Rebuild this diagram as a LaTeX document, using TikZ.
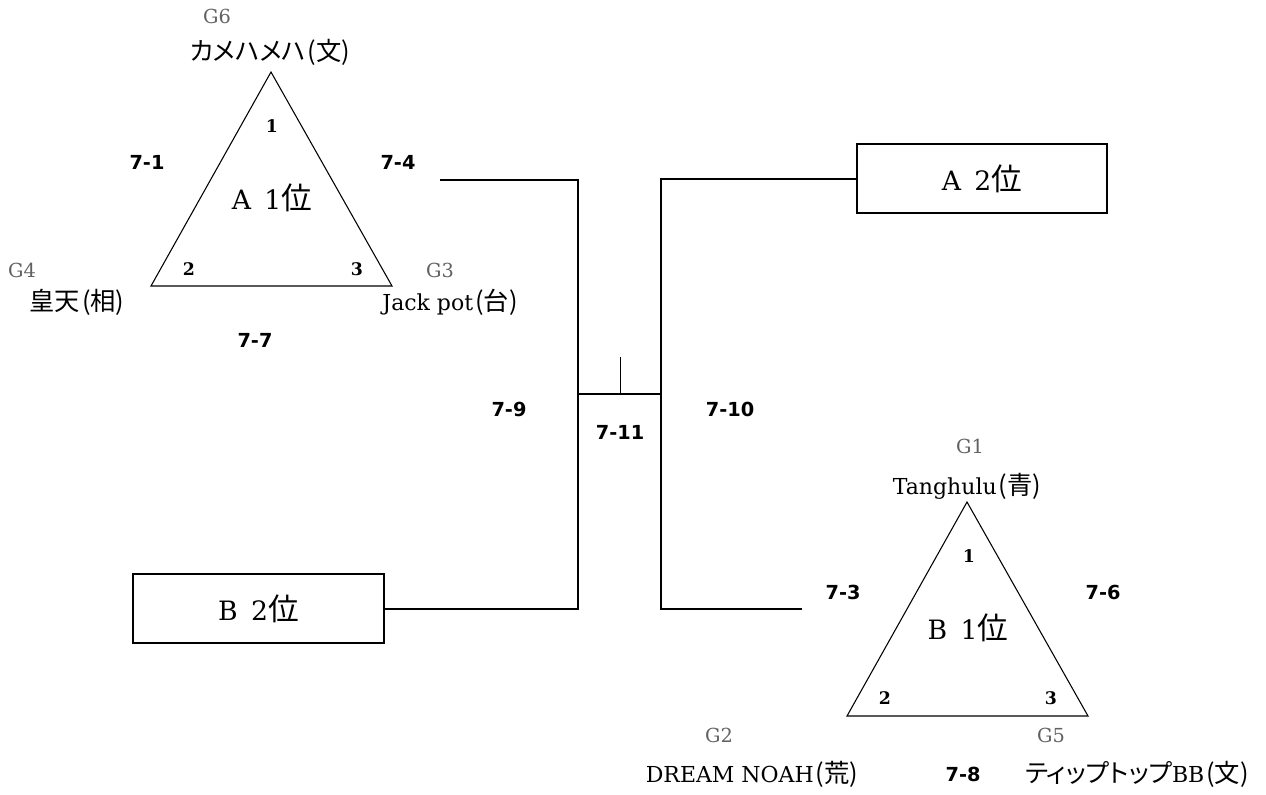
\documentclass[tikz,border=0pt]{standalone}
\usepackage{fontspec}
\setmainfont{DejaVu Serif}
\newfontfamily\jpfont[CharacterWidth=AlternateProportional, Scale=1.15]{Noto Sans CJK JP}
\newfontfamily\tagfont{DejaVu Sans}
\newcommand{\club}[1]{\kern1.5pt{\jpfont(#1)}}
\usetikzlibrary{positioning}

\begin{document}
\begin{tikzpicture}[x=0.75pt, y=-0.75pt,
        rank/.style={rectangle, draw, line width=1.5pt, minimum width=188pt, minimum height=52pt, font=\fontsize{20}{24}\selectfont},
        team/.style={font=\fontsize{16.5}{20}\selectfont, inner sep=0pt},
        grp/.style={font=\fontsize{14.5}{17}\selectfont, text=black!62, inner sep=0pt},
        game/.style={font=\tagfont\bfseries\fontsize{14.5}{17}\selectfont, inner sep=0pt},
        seat/.style={font=\bfseries\fontsize{13}{15}\selectfont, inner sep=0pt},
        pool/.style={font=\fontsize{20}{24}\selectfont, inner sep=0pt},
        tri/.style={line width=0.8pt},
        wire/.style={line width=1.5pt}
    ]
        \useasboundingbox (0,0) rectangle (1266,794);
        % group A
        \coordinate (ta1) at (271,72);
        \coordinate (ta2) at (151,286);
        \coordinate (ta3) at (392,286);
        \draw[tri] (ta1) -- (ta2) -- (ta3) -- cycle;
        \node[pool] (poola) at (272,198) {A\enspace 1{\jpfont 位}};
        \node[seat] (sa1) at (272,126) {1};
        \node[seat] (sa2) at (189,269) {2};
        \node[seat] (sa3) at (357,269) {3};
        \node[grp] (g6) at (217,16) {G6};
        \node[team] (kame) at (270,52) {{\jpfont カメハメハ}\club{文}};
        \node[grp] (g4) at (22,270) {G4};
        \node[team] (koten) at (77,302) {{\jpfont 皇天}\club{相}};
        \node[grp] (g3) at (440,270) {G3};
        \node[team] (jack) at (450,302) {Jack pot\club{台}};
        \node[game] (m1) at (147,162) {7-1};
        \node[game] (m4) at (398,162) {7-4};
        \node[game] (m7) at (255,340) {7-7};

        % group B
        \coordinate (tb1) at (967,502);
        \coordinate (tb2) at (847,716);
        \coordinate (tb3) at (1088,716);
        \draw[tri] (tb1) -- (tb2) -- (tb3) -- cycle;
        \node[pool] (poolb) at (968,628) {B\enspace 1{\jpfont 位}};
        \node[seat] (sb1) at (969,556) {1};
        \node[seat] (sb2) at (885,698) {2};
        \node[seat] (sb3) at (1051,698) {3};
        \node[grp] (g1) at (970,446) {G1};
        \node[team] (tang) at (967,486) {Tanghulu\club{青}};
        \node[grp] (g2) at (719,735) {G2};
        \node[team] (noah) at (752,774) {DREAM NOAH\club{荒}};
        \node[grp] (g5) at (1051,735) {G5};
        \node[team] (tip) at (1137,774) {{\jpfont ティップトップ}BB\club{文}};
        \node[game] (m3) at (843,592) {7-3};
        \node[game] (m6) at (1103,592) {7-6};
        \node[game] (m8) at (963,774) {7-8};

        % knockout
        \node[rank] (a2) at (982,178.5) {A\enspace 2{\jpfont 位}};
        \node[rank] (b2) at (258.5,608.5) {B\enspace 2{\jpfont 位}};
        \coordinate (a1out) at (440,180);
        \coordinate (b1out) at (802,608.5);
        \coordinate (semi1) at (578,394);
        \coordinate (semi2) at (661,394);
        \coordinate (final) at (620.5,394);
        \coordinate (win) at (620.5,357);
        \draw[wire] (a1out) -| (semi1);
        \draw[wire] (b2.east) -| (semi1);
        \draw[wire] (a2.west) -| (semi2);
        \draw[wire] (b1out) -| (semi2);
        \draw[wire] (semi1) -- (semi2);
        \draw[line width=0.8pt] (final) -- (win);
        \node[game] (m9) at (509,409) {7-9};
        \node[game] (m11) at (620,432) {7-11};
        \node[game] (m10) at (730,409) {7-10};
    \end{tikzpicture}
\end{document}
